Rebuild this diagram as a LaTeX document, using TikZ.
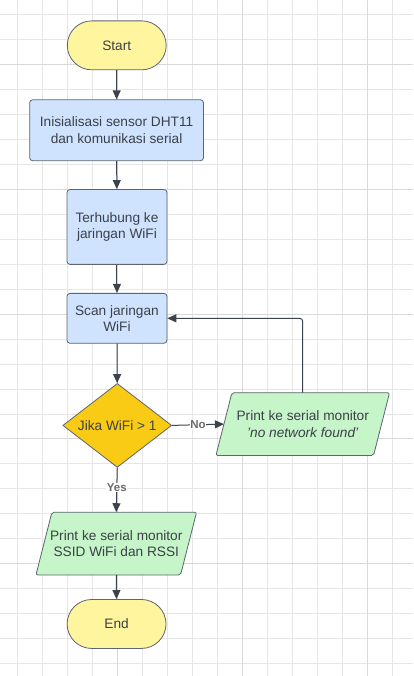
\documentclass[tikz,border=0pt]{standalone}
\usepackage{fontspec}
\setmainfont{Liberation Sans}
\usetikzlibrary{shapes.geometric,arrows.meta,positioning,calc}
\pgfdeclarelayer{gridlayer}
\pgfdeclarelayer{shapelayer}
\pgfsetlayers{gridlayer,shapelayer,main}
\definecolor{gridc}{HTML}{E6E6E6}
\definecolor{gridm}{HTML}{D9D9D9}
\definecolor{termfill}{HTML}{FFF59E}
\definecolor{procfill}{HTML}{CFE3FF}
\definecolor{decfill}{HTML}{FACB14}
\definecolor{iofill}{HTML}{C5F5C8}
\definecolor{edgec}{HTML}{5E6470}
\definecolor{arrc}{HTML}{3D434D}
\definecolor{txtc}{HTML}{3C4048}
\definecolor{lblc}{HTML}{6A6A6A}
\tikzset{
  x=1pt,y=-1pt,
  base/.style={draw=edgec, line width=0.8pt, text=txtc, font=\fontsize{13.7}{16.5}\selectfont, align=center, inner sep=0pt},
  term/.style={base, fill=termfill, rounded corners=24.5pt, minimum width=99pt, minimum height=49pt},
  proc/.style={base, fill=procfill, rounded corners=3pt, minimum width=100pt},
  decis/.style={base, fill=decfill, draw=edgec, diamond, aspect=1.3, minimum width=109pt, minimum height=84pt},
  iotext/.style={base, draw=none, minimum height=62pt},
  ioshape/.style={draw=edgec, line width=0.8pt, fill=iofill, rounded corners=2pt},
  conn/.style={draw=arrc, line width=1pt, -{Triangle[width=8pt,length=9pt]}},
  lbl/.style={fill=white, text=lblc, font=\bfseries\fontsize{11.5}{13}\selectfont, inner sep=0.5pt}
}
\begin{document}
\begin{tikzpicture}
\begin{pgfonlayer}{gridlayer}
\fill[white] (0,0) rectangle (413,676);
\foreach \gx in {17.5,42.5,...,413} {\draw[gridc, line width=0.8pt] (\gx,0) -- (\gx,676);}
\foreach \gy in {14,39,...,676} {\draw[gridc, line width=0.8pt] (0,\gy) -- (413,\gy);}
\foreach \gx in {117.5,242.5,367.5} {\draw[gridm, line width=0.8pt] (\gx,0) -- (\gx,676);}
\foreach \gy in {64,189,314,439,564} {\draw[gridm, line width=0.8pt] (0,\gy) -- (413,\gy);}
\end{pgfonlayer}
\useasboundingbox (0,0) rectangle (413,676);
% nodes
\node[term] (start) at (116.5,45) {Start};
\node[proc, minimum width=174pt, minimum height=61pt] (init) at (116.3,130) {Inisialisasi sensor DHT11\\dan komunikasi serial};
\node[proc, minimum height=75pt] (wifi) at (116.7,226.8) {Terhubung ke\\jaringan WiFi};
\node[proc, minimum height=50pt] (scan) at (116.7,318.3) {Scan jaringan\\WiFi};
\node[decis] (dec) at (117,425.5) {Jika WiFi > 1};
\node[iotext, minimum width=157pt] (nonet) at (302.7,424.2) {Print ke serial monitor\\\textit{'no network found'}};
\node[iotext, minimum width=144pt] (ssid) at (116,543.8) {Print ke serial monitor\\SSID WiFi dan RSSI};
\node[term] (end) at (116.3,624.3) {End};
\coordinate (corner) at (302.7,318.3);
\begin{pgfonlayer}{shapelayer}
\foreach \n in {nonet,ssid} {
  \draw[ioshape] ($(\n.north west)+(8,0)$) -- ($(\n.north east)+(8,0)$) -- ($(\n.south east)+(-8,0)$) -- ($(\n.south west)+(-8,0)$) -- cycle;
}
\end{pgfonlayer}
% connectors
\draw[conn] (start) -- (init);
\draw[conn] (init) -- (wifi);
\draw[conn] (wifi) -- (scan);
\draw[conn] (scan) -- (dec);
\draw[conn] (dec.east) -- node[lbl, pos=0.5] {No} (nonet.west);
\draw[conn, rounded corners=3pt] (nonet.north) -- (corner) -- (scan.east);
\draw[conn] (dec.south) -- node[lbl, pos=0.45] {Yes} (ssid.north);
\draw[conn] (ssid) -- (end);
\end{tikzpicture}
\end{document}
